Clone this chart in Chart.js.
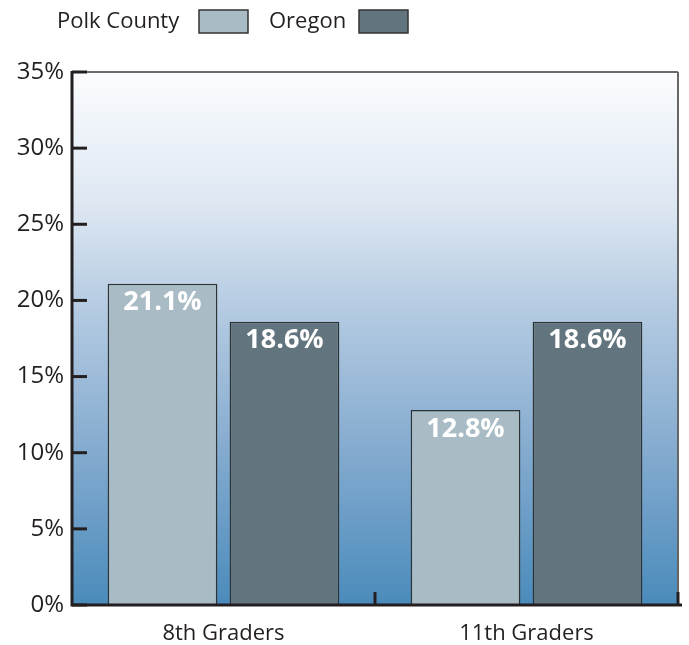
<!DOCTYPE html>
<html>
<head>
<meta charset="utf-8">
<script src="https://cdn.jsdelivr.net/npm/chart.js@4/dist/chart.umd.min.js"></script>
<style>
  html, body { margin: 0; padding: 0; background: #ffffff; }
  #wrap { width: 689px; height: 645px; position: relative; }
</style>
</head>
<body>
<div id="wrap"><canvas id="c" width="689" height="645"></canvas></div>
<script>
const categories = ['8th Graders', '11th Graders'];
const polkCounty = [21.1, 12.8];
const oregon = [18.6, 18.6];
const seriesNames = ['Polk County', 'Oregon'];
const yTicks = [0, 5, 10, 15, 20, 25, 30, 35];

const FONT = '"Open Sans", Lato, sans-serif';
const INK = '#231f20';

// Plot background: white fading to steel blue
const backdrop = {
  id: 'backdrop',
  beforeDraw(chart) {
    const { ctx, chartArea: a } = chart;
    const g = ctx.createLinearGradient(0, a.top, 0, a.bottom);
    g.addColorStop(0, '#fbfcfe');
    g.addColorStop(0.25, '#dde7f2');
    g.addColorStop(0.45, '#b3cae1');
    g.addColorStop(0.7, '#86acd0');
    g.addColorStop(1, '#4a8bbb');
    ctx.save();
    ctx.fillStyle = g;
    ctx.fillRect(a.left, a.top, a.right - a.left, a.bottom - a.top);
    ctx.restore();
  }
};

// Frame, inward tick marks, value labels and the legend
const decorations = {
  id: 'decorations',
  afterDraw(chart) {
    const { ctx, chartArea: a } = chart;
    const ys = chart.scales.y;
    ctx.save();

    // top and right edges
    ctx.strokeStyle = '#3a3a3a';
    ctx.lineWidth = 1.5;
    ctx.beginPath();
    ctx.moveTo(a.left, a.top);
    ctx.lineTo(a.right, a.top);
    ctx.stroke();
    ctx.strokeStyle = '#666666';
    ctx.lineWidth = 2;
    ctx.beginPath();
    ctx.moveTo(a.right, a.top);
    ctx.lineTo(a.right, a.bottom);
    ctx.stroke();

    // left and bottom axes
    ctx.strokeStyle = INK;
    ctx.lineWidth = 3;
    ctx.beginPath();
    ctx.moveTo(a.left, a.top - 1);
    ctx.lineTo(a.left, a.bottom);
    ctx.lineTo(a.right + 4, a.bottom);
    ctx.stroke();

    // y ticks pointing into the plot
    yTicks.forEach(v => {
      const y = ys.getPixelForValue(v);
      ctx.beginPath();
      ctx.moveTo(a.left, y);
      ctx.lineTo(a.left + 15, y);
      ctx.stroke();
    });

    // x ticks between categories, pointing up
    const step = (a.right - a.left) / categories.length;
    for (let i = 1; i <= categories.length; i++) {
      const x = a.left + step * i;
      ctx.beginPath();
      ctx.moveTo(x, a.bottom);
      ctx.lineTo(x, a.bottom - 13);
      ctx.stroke();
    }

    // value labels inside bar tops
    ctx.fillStyle = '#ffffff';
    ctx.font = 'bold 27px ' + FONT;
    ctx.textAlign = 'center';
    ctx.textBaseline = 'middle';
    chart.data.datasets.forEach((ds, di) => {
      chart.getDatasetMeta(di).data.forEach((bar, i) => {
        ctx.fillText(ds.data[i].toFixed(1) + '%', bar.x, bar.y + 19);
      });
    });

    // legend: name followed by swatch
    ctx.font = '22px ' + FONT;
    ctx.textAlign = 'left';
    ctx.textBaseline = 'alphabetic';
    const entries = [
      { x: 57, box: 199 },
      { x: 269, box: 359 }
    ];
    chart.data.datasets.forEach((ds, di) => {
      const e = entries[di];
      ctx.fillStyle = INK;
      ctx.fillText(ds.label, e.x, 28);
      ctx.fillStyle = ds.backgroundColor;
      ctx.fillRect(e.box, 10, 49, 23);
      ctx.strokeStyle = '#333333';
      ctx.lineWidth = 1.5;
      ctx.strokeRect(e.box, 10, 49, 23);
    });

    ctx.restore();
  }
};

new Chart(document.getElementById('c'), {
  type: 'bar',
  data: {
    labels: categories,
    datasets: [
      {
        label: seriesNames[0],
        data: polkCounty,
        backgroundColor: '#a9bcc5',
        borderColor: '#2e3436',
        borderWidth: 1.5,
        categoryPercentage: 0.805,
        barPercentage: 0.9
      },
      {
        label: seriesNames[1],
        data: oregon,
        backgroundColor: '#62757e',
        borderColor: '#2e3436',
        borderWidth: 1.5,
        categoryPercentage: 0.805,
        barPercentage: 0.9
      }
    ]
  },
  options: {
    responsive: false,
    animation: false,
    layout: { padding: { top: 72, right: 11, left: 0, bottom: 0 } },
    plugins: {
      legend: { display: false },
      tooltip: { enabled: false }
    },
    scales: {
      x: {
        grid: { display: false, drawTicks: false },
        border: { display: false },
        ticks: {
          color: INK,
          font: { family: FONT, size: 22 },
          padding: 16
        },
        afterFit(s) { s.height = 40; }
      },
      y: {
        min: 0,
        max: 35,
        afterBuildTicks(s) { s.ticks = yTicks.map(v => ({ value: v })); },
        grid: { display: false, drawTicks: false },
        border: { display: false },
        ticks: {
          color: INK,
          font: { family: FONT, size: 24 },
          padding: 8,
          callback: v => v + '%'
        },
        afterFit(s) { s.width = 72; }
      }
    }
  },
  plugins: [backdrop, decorations]
});
</script>
</body>
</html>
